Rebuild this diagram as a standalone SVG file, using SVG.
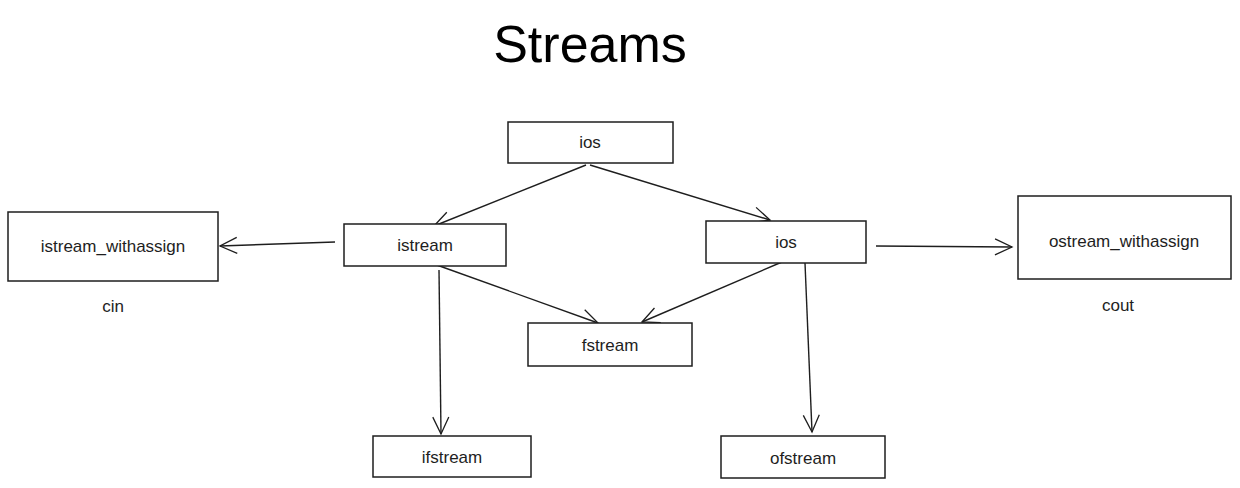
<svg xmlns="http://www.w3.org/2000/svg" width="1240" height="488" viewBox="0 0 1240 488">
<defs>
<marker id="arr" viewBox="0 0 20 20" refX="18" refY="10" markerWidth="20" markerHeight="20" markerUnits="userSpaceOnUse" orient="auto">
<path d="M1,2 L18,10 L1,18" fill="none" stroke="#1e1e1e" stroke-width="1.3"/>
</marker>
</defs>
<style>
.box{fill:#fff;stroke:#1e1e1e;stroke-width:1.5}
.lbl{font-family:"Liberation Sans",Arial,sans-serif;font-size:17px;fill:#1e1e1e;text-anchor:middle;dominant-baseline:central}
.title{font-family:"Liberation Sans",Arial,sans-serif;font-size:52px;fill:#000;text-anchor:middle;dominant-baseline:central}
.con{fill:none;stroke:#1e1e1e;stroke-width:1.4;marker-end:url(#arr)}
</style>
<rect width="1240" height="488" fill="#fff"/>
<text class="title" x="590" y="44">Streams</text>
<g id="connectors">
<line class="con" x1="586" y1="165" x2="434" y2="226"/>
<line class="con" x1="590" y1="165" x2="770" y2="220"/>
<line class="con" x1="335" y1="242" x2="220" y2="246"/>
<line class="con" x1="876" y1="246" x2="1012" y2="247"/>
<line class="con" x1="434" y1="264" x2="598" y2="323"/>
<line class="con" x1="782" y1="262" x2="642" y2="322"/>
<line class="con" x1="439" y1="270" x2="441" y2="434"/>
<line class="con" x1="805" y1="263" x2="812" y2="432"/>
</g>
<g id="ios_top"><rect class="box" x="508" y="122" width="165" height="41"/><text class="lbl" x="590" y="142">ios</text></g>
<g id="istream"><rect class="box" x="344" y="224" width="162" height="42"/><text class="lbl" x="425" y="245">istream</text></g>
<g id="ios_right"><rect class="box" x="706" y="221" width="160" height="42"/><text class="lbl" x="786" y="242">ios</text></g>
<g id="istream_withassign"><rect class="box" x="8" y="212" width="210" height="69"/><text class="lbl" x="113" y="246">istream_withassign</text></g>
<g id="ostream_withassign"><rect class="box" x="1018" y="196" width="213" height="83"/><text class="lbl" x="1124" y="241">ostream_withassign</text></g>
<g id="fstream"><rect class="box" x="528" y="323" width="164" height="43"/><text class="lbl" x="610" y="345">fstream</text></g>
<g id="ifstream"><rect class="box" x="373" y="436" width="158" height="41"/><text class="lbl" x="452" y="457">ifstream</text></g>
<g id="ofstream"><rect class="box" x="721" y="436" width="164" height="42"/><text class="lbl" x="803" y="458">ofstream</text></g>
<text class="lbl" x="113" y="306">cin</text>
<text class="lbl" x="1118" y="305">cout</text>
</svg>
